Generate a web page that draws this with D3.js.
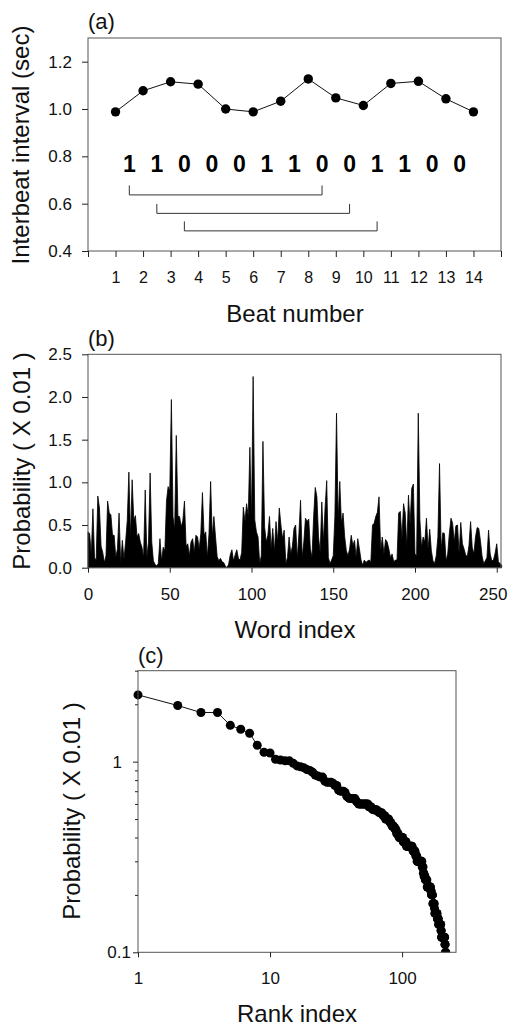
<!DOCTYPE html>
<html>
<head>
<meta charset="utf-8">
<script src="https://cdn.jsdelivr.net/npm/d3@7"></script>
<style>
  html, body { margin: 0; padding: 0; background: #fff; }
  svg { display: block; font-family: "Liberation Sans", Arial, Helvetica, sans-serif; }
</style>
</head>
<body>
<svg id="chart" width="508" height="1028"></svg>
<script>
// (a) interbeat intervals
const beatNumbers = [1, 2, 3, 4, 5, 6, 7, 8, 9, 10, 11, 12, 13, 14];
const interbeatIntervals = [0.988, 1.077, 1.115, 1.105, 1.0, 0.988, 1.033, 1.127, 1.047, 1.015, 1.108, 1.117, 1.043, 0.988];
const beatSymbols = ['1', '1', '0', '0', '0', '1', '1', '0', '0', '1', '1', '0', '0'];
const bracketStarts = [1.5, 2.5, 3.5];
const bracketEnds = [8.5, 9.5, 10.5];
const bracketLevels = [0.637, 0.559, 0.485];
const beatTicks = [0, 1, 2, 3, 4, 5, 6, 7, 8, 9, 10, 11, 12, 13, 14, 15];
const intervalTicks = [0.4, 0.6, 0.8, 1.0, 1.2];

// (b) word probabilities (x 0.01), word index 0..253
const wordProbabilities = [
  0.42, 0.40, 0.15, 0.69, 0.12, 0.08, 0.84, 0.70, 0.25, 0.18,
  0.06, 0.14, 0.78, 0.64, 0.62, 0.38, 0.38, 0.12, 0.22, 0.64,
  0.05, 0.32, 0.10, 0.30, 0.55, 1.12, 0.35, 1.03, 0.56, 0.61,
  0.36, 0.40, 0.30, 0.24, 0.12, 0.91, 0.12, 0.30, 1.11, 0.30,
  0.08, 0.04, 0.02, 0.05, 0.34, 0.08, 0.24, 0.20, 0.78, 0.95,
  0.90, 1.97, 0.60, 0.45, 1.55, 0.60, 0.60, 0.48, 0.55, 0.78,
  0.25, 0.28, 0.14, 0.30, 0.34, 0.18, 0.38, 0.36, 0.22, 0.40,
  0.88, 0.38, 0.42, 0.12, 0.40, 1.01, 0.36, 0.60, 0.36, 0.13,
  0.08, 0.11, 0.07, 0.06, 0.02, 0.00, 0.04, 0.15, 0.21, 0.08,
  0.15, 0.21, 0.11, 0.09, 0.18, 0.71, 0.54, 0.75, 0.60, 1.41,
  0.56, 2.24, 0.56, 0.42, 0.36, 0.05, 0.14, 1.48, 0.48, 0.30,
  0.38, 0.60, 0.22, 0.46, 0.18, 0.54, 0.30, 0.70, 0.50, 0.34,
  0.44, 0.05, 0.12, 0.36, 0.16, 0.25, 0.46, 0.50, 0.10, 0.40,
  0.79, 0.12, 0.30, 0.58, 0.54, 0.57, 0.22, 0.12, 0.60, 0.94,
  0.83, 0.36, 0.18, 0.77, 0.30, 0.70, 1.02, 0.12, 0.05, 0.09,
  0.14, 0.60, 1.81, 0.56, 1.01, 0.52, 0.64, 0.36, 0.20, 0.14,
  0.22, 0.38, 0.26, 0.32, 0.12, 0.34, 0.22, 0.09, 0.03, 0.09,
  0.06, 0.08, 0.09, 0.07, 0.50, 0.52, 0.60, 0.65, 0.83, 0.20,
  0.36, 0.16, 0.33, 0.30, 0.22, 0.12, 0.16, 0.07, 0.09, 0.09,
  0.64, 0.66, 0.34, 0.75, 0.64, 0.24, 0.85, 0.50, 0.93, 0.98,
  0.16, 0.14, 1.81, 0.56, 0.24, 0.36, 0.30, 0.58, 0.22, 0.45,
  0.20, 0.08, 0.05, 0.14, 0.36, 1.22, 0.22, 0.41, 0.40, 0.08,
  0.16, 0.40, 0.58, 0.52, 0.30, 0.49, 0.50, 0.16, 0.53, 0.28,
  0.22, 0.15, 0.13, 0.26, 0.54, 0.24, 0.16, 0.36, 0.47, 0.46,
  0.32, 0.14, 0.05, 0.08, 0.12, 0.44, 0.16, 0.08, 0.09, 0.17,
  0.28, 0.07, 0.05, 0.03
];
const wordTicks = [0, 50, 100, 150, 200, 250];
const probTicks = [0, 0.5, 1.0, 1.5, 2.0, 2.5];

// (c) rank plot uses the same probabilities, sorted
const rankTicks = [1, 10, 100];
const rankProbMajor = [0.1, 1];
const rankProbMinor = [0.2, 0.3, 0.4, 0.5, 0.6, 0.7, 0.8, 0.9, 2, 3];

const frameColor = '#555';
const tickFont = 17;
const titleFont = 24;

const svg = d3.select('#chart');

// plain box around a panel
function drawFrame(x0, x1, y0, y1) {
  svg.append('rect')
    .attr('x', x0).attr('y', y1)
    .attr('width', x1 - x0).attr('height', y0 - y1)
    .attr('fill', 'none')
    .attr('stroke', frameColor)
    .attr('stroke-width', 1);
}

function styleAxis(g) {
  g.select('.domain').remove();
  g.selectAll('.tick line').attr('stroke', '#222');
  g.selectAll('.tick text')
    .attr('fill', '#111')
    .style('font-family', '"Liberation Sans", Arial, sans-serif')
    .style('font-size', tickFont + 'px');
}

function addText(txt, x, y, size, opts = {}) {
  const t = svg.append('text')
    .attr('x', x).attr('y', y)
    .attr('font-size', size)
    .attr('fill', '#111')
    .attr('text-anchor', opts.anchor || 'start')
    .text(txt);
  if (opts.weight) t.attr('font-weight', opts.weight);
  return t;
}

function addYTitle(txt, x, y) {
  svg.append('text')
    .attr('transform', `translate(${x},${y}) rotate(-90)`)
    .attr('text-anchor', 'middle')
    .attr('font-size', titleFont)
    .attr('fill', '#111')
    .text(txt);
}

/**
 * Panel (a): interbeat intervals with binary coding
 */
function drawBeatPanel() {
  const x = d3.scaleLinear().domain([0, 15]).range([88, 501]);
  const y = d3.scaleLinear().domain([0.4, 1.3]).range([251, 38]);

  drawFrame(88, 501, 251, 38);

  svg.append('g')
    .attr('transform', 'translate(88,0)')
    .call(d3.axisLeft(y).tickValues(intervalTicks).tickSize(6).tickPadding(10).tickFormat(d3.format('.1f')))
    .call(styleAxis);

  svg.append('g')
    .attr('transform', 'translate(0,251)')
    .call(d3.axisBottom(x).tickValues(beatTicks).tickSize(6).tickPadding(15)
      .tickFormat(d => (d >= 1 && d <= 14) ? d : ''))
    .call(styleAxis)
    .selectAll('.tick text').style('font-size', '16px');

  const points = beatNumbers.map((b, i) => [b, interbeatIntervals[i]]);

  svg.append('path')
    .datum(points)
    .attr('fill', 'none')
    .attr('stroke', '#111')
    .attr('stroke-width', 1)
    .attr('d', d3.line().x(d => x(d[0])).y(d => y(d[1])));

  svg.append('g').selectAll('circle')
    .data(points)
    .join('circle')
    .attr('cx', d => x(d[0]))
    .attr('cy', d => y(d[1]))
    .attr('r', 4.7)
    .attr('fill', '#000');

  // binary symbols sit between beats
  svg.append('g').selectAll('text')
    .data(beatSymbols)
    .join('text')
    .attr('x', (d, i) => x(i + 1.5))
    .attr('y', y(0.734))
    .attr('text-anchor', 'middle')
    .attr('font-size', 23)
    .attr('font-weight', 'bold')
    .attr('fill', '#000')
    .text(d => d);

  // brackets linking symbols 7 apart
  const bracketH = 0.04;
  svg.append('g').selectAll('path')
    .data(bracketStarts.map((s, i) => [s, bracketEnds[i], bracketLevels[i]]))
    .join('path')
    .attr('fill', 'none')
    .attr('stroke', '#333')
    .attr('stroke-width', 1)
    .attr('d', d => `M${x(d[0])},${y(d[2] + bracketH)}V${y(d[2])}H${x(d[1])}V${y(d[2] + bracketH)}`);

  addText('(a)', 88, 29, 22);
  addText('Beat number', 295, 322, titleFont, { anchor: 'middle' });
  addYTitle('Interbeat interval (sec)', 29, 145);
}

/**
 * Panel (b): probability of each word
 */
function drawWordPanel() {
  const x = d3.scaleLinear().domain([0, 252.6]).range([88, 501]);
  const y = d3.scaleLinear().domain([0, 2.5]).range([567.7, 354.3]);

  const area = d3.area()
    .x((d, i) => x(i))
    .y0(y(0))
    .y1(d => y(d));

  svg.append('path')
    .datum(wordProbabilities)
    .attr('fill', '#000')
    .attr('stroke', '#000')
    .attr('stroke-width', 0.8)
    .attr('stroke-linejoin', 'round')
    .attr('d', area);

  drawFrame(88, 501, 567.7, 354.3);

  svg.append('g')
    .attr('transform', 'translate(88,0)')
    .call(d3.axisLeft(y).tickValues(probTicks).tickSize(6).tickPadding(10).tickFormat(d3.format('.1f')))
    .call(styleAxis);

  const xAxis = svg.append('g')
    .attr('transform', 'translate(0,567.7)')
    .call(d3.axisBottom(x).tickValues(wordTicks).tickSize(5).tickPadding(15))
    .call(styleAxis);
  // last label touches the page edge
  xAxis.selectAll('.tick text').filter(d => d === 250).attr('dx', -4);

  addText('(b)', 88, 346, 22);
  addText('Word index', 295, 638, titleFont, { anchor: 'middle' });
  addYTitle('Probability ( X 0.01 )', 30, 461);
}

/**
 * Panel (c): rank-ordered probabilities on log-log axes
 */
function drawRankPanel() {
  const ranked = wordProbabilities
    .filter(v => v > 0)
    .sort((a, b) => b - a)
    .map((v, i) => [i + 1, v]);

  const x = d3.scaleLog().domain([1, 256]).range([138, 456]);
  const y = d3.scaleLog().domain([0.1, 3]).range([952.3, 670.7]);

  svg.append('clipPath')
    .attr('id', 'rank-clip')
    .append('rect')
    .attr('x', 130).attr('y', 660)
    .attr('width', 330).attr('height', 952.3 - 660);

  const plot = svg.append('g').attr('clip-path', 'url(#rank-clip)');

  plot.append('path')
    .datum(ranked)
    .attr('fill', 'none')
    .attr('stroke', '#111')
    .attr('stroke-width', 1)
    .attr('d', d3.line().x(d => x(d[0])).y(d => y(d[1])));

  plot.append('g').selectAll('circle')
    .data(ranked.filter(d => d[1] >= 0.1))
    .join('circle')
    .attr('cx', d => x(d[0]))
    .attr('cy', d => y(d[1]))
    .attr('r', 4.5)
    .attr('fill', '#000');

  drawFrame(138, 456, 952.3, 670.7);

  svg.append('g')
    .attr('transform', 'translate(138,0)')
    .call(d3.axisLeft(y).tickValues(rankProbMinor).tickSize(3).tickFormat(''))
    .call(styleAxis);

  const yMajor = svg.append('g')
    .attr('transform', 'translate(138,0)')
    .call(d3.axisLeft(y).tickValues(rankProbMajor).tickSize(5).tickPadding(2)
      .tickFormat(d => d === 1 ? '1' : '0.1'))
    .call(styleAxis);
  // the "1" label sits further out than "0.1"
  yMajor.selectAll('.tick text').filter(d => d === 1).attr('x', -16);

  svg.append('g')
    .attr('transform', 'translate(0,952.3)')
    .call(d3.axisBottom(x).tickValues(rankTicks).tickSize(5).tickPadding(15)
      .tickFormat(d3.format('d')))
    .call(styleAxis);

  addText('(c)', 138, 663, 22);
  addText('Rank index', 297, 1022, titleFont, { anchor: 'middle' });
  addYTitle('Probability ( X 0.01 )', 80, 811);
}

drawBeatPanel();
drawWordPanel();
drawRankPanel();
</script>
</body>
</html>
